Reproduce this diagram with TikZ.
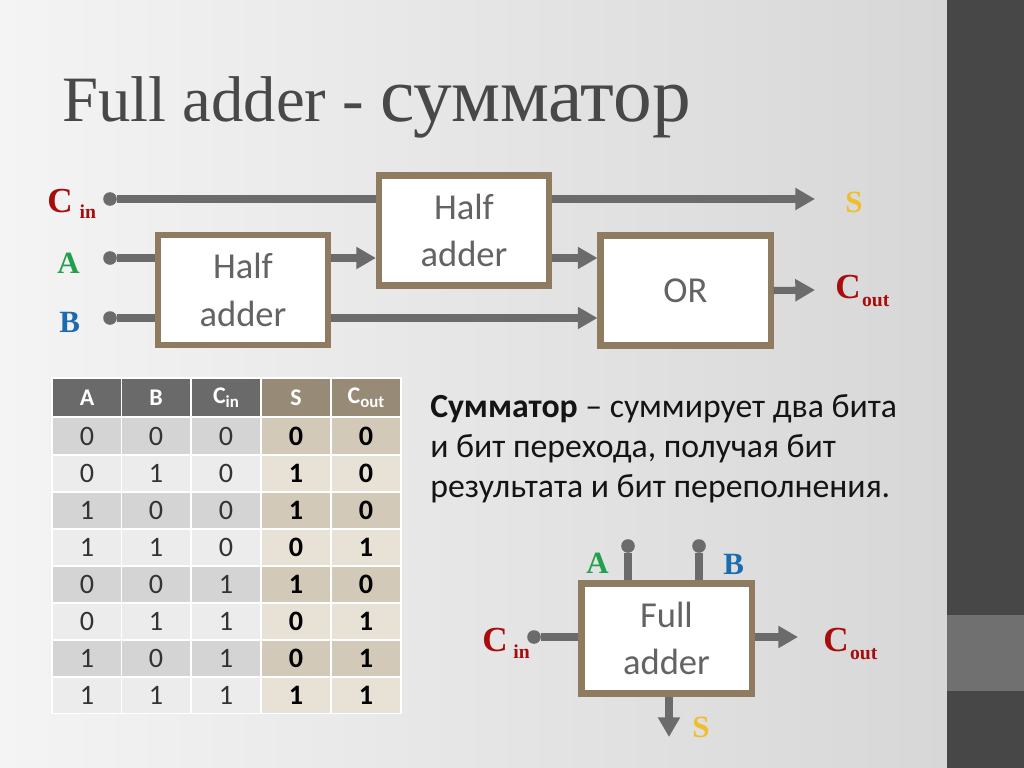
\documentclass[tikz,border=0pt]{standalone}
\usepackage{fontspec}
\setmainfont{Liberation Serif}
\newfontfamily\calib{Carlito}
\usepackage{xcolor}
\usepackage{tikz}
\usetikzlibrary{arrows.meta,positioning}

\definecolor{bgleft}{HTML}{F4F4F4}
\definecolor{bgright}{HTML}{D7D7D7}
\definecolor{sidebar}{HTML}{474747}
\definecolor{sidemark}{HTML}{707070}
\definecolor{wiregray}{HTML}{6B6B6B}
\definecolor{frame}{HTML}{8F7B60}
\definecolor{boxtext}{HTML}{636363}
\definecolor{titlegray}{HTML}{484848}
\definecolor{cinred}{HTML}{A80C0C}
\definecolor{agreen}{HTML}{22A04B}
\definecolor{bblue}{HTML}{1A6BB0}
\definecolor{syellow}{HTML}{F0BE2A}
\definecolor{hdgray}{HTML}{6A6A6A}
\definecolor{hdbrown}{HTML}{978A76}
\definecolor{rowdark}{HTML}{D4D4D4}
\definecolor{rowlight}{HTML}{ECECEC}
\definecolor{sumdark}{HTML}{D3C9B8}
\definecolor{sumlight}{HTML}{E7E1D6}

\newcommand{\csig}[3]{C\hspace{#1}\raisebox{-#3}{\fontsize{14}{14}\selectfont #2}}

\begin{document}
\begin{tikzpicture}[
    x=0.025cm, y=-0.025cm,
    block/.style={rectangle, draw=frame, line width=4.3pt, fill=white, minimum width=4.25cm, minimum height=2.75cm, align=center, text=boxtext, font=\calib\fontsize{26}{34}\selectfont},
    dot/.style={circle, fill=wiregray, inner sep=0pt, minimum size=0.34cm},
    wire/.style={draw=wiregray, line width=5pt},
    edge/.style={wire, -{Triangle[length=14pt,width=15pt]}},
    siglbl/.style={inner sep=0pt, anchor=base west, font=\bfseries\fontsize{22}{22}\selectfont},
    bigC/.style={siglbl, text=cinred, font=\bfseries\fontsize{25}{25}\selectfont},
    hcell/.style={rectangle, minimum width=1.7cm, minimum height=0.925cm, inner sep=0pt, text=white, font=\calib\bfseries\fontsize{17}{17}\selectfont},
    cell/.style={rectangle, minimum width=1.7cm, minimum height=0.875cm, inner sep=0pt, text=black!80, font=\calib\fontsize{20}{20}\selectfont},
    sumcell/.style={cell, text=black, font=\calib\bfseries\fontsize{20}{20}\selectfont}
]
\useasboundingbox (0,0) rectangle (1024,768);
\shade[left color=bgleft, right color=bgright] (0,0) rectangle (947,768);
\fill[sidebar] (947,0) rectangle (1024,768);
\fill[sidemark] (947,615) rectangle (1024,691);

% title
\node[anchor=base west, inner sep=0pt, text=titlegray] (title) at (62,122)
    {\fontsize{46}{46}\selectfont Full adder - \fontsize{55}{55}\selectfont сумматор};

% full adder from two half adders
\node[block] (ha1) at (243,290) {Half\\adder};
\node[block] (ha2) at (464,230.5) {Half\\adder};
\node[block] (orgate) at (685.5,290.5) {OR};
\node[dot] (dcin) at (110,199) {};
\node[dot] (da) at (110,258) {};
\node[dot] (db) at (110,318) {};
\coordinate (sarr) at (815,199);
\coordinate (coarr) at (815,290);

\draw[wire] (dcin) -- (dcin -| ha2.west);
\draw[edge] (dcin -| ha2.east) -- (sarr);
\draw[wire] (da) -- (da -| ha1.west);
\draw[wire] (db) -- (db -| ha1.west);
\draw[edge] (da -| ha1.east) -- (da -| ha2.west);
\draw[edge] (db -| ha1.east) -- (db -| orgate.west);
\draw[edge] (da -| ha2.east) -- (da -| orgate.west);
\draw[edge] (orgate.east) -- (coarr);

\node[bigC] (lcin) at (47,212) {\csig{5pt}{in}{4.5pt}};
\node[siglbl, text=agreen] (la) at (57,273) {A};
\node[siglbl, text=bblue] (lb) at (59,332) {B};
\node[siglbl, text=syellow] (ls) at (845,212) {S};
\node[bigC] (lcout) at (835,298) {\csig{1pt}{out}{6pt}};

% truth table
\fill[white] (51,377) rectangle (402,714);
\node[hcell, fill=hdgray] (ha) at (87,397.5) {A};
\node[hcell, fill=hdgray] (hb) at (156,397.5) {B};
\node[hcell, fill=hdgray] (hc) at (226,397.5) {C\raisebox{-3pt}{\fontsize{12}{12}\selectfont in}};
\node[hcell, fill=hdbrown] (hs) at (296,397.5) {S};
\node[hcell, fill=hdbrown] (ho) at (366,397.5) {C\raisebox{-3pt}{\fontsize{12}{12}\selectfont out}};
\foreach \a/\b/\c/\s/\o [count=\r] in {0/0/0/0/0,0/1/0/1/0,1/0/0/1/0,1/1/0/0/1,0/0/1/1/0,0/1/1/0/1,1/0/1/0/1,1/1/1/1/1}{
  \pgfmathsetmacro{\yy}{436+37*(\r-1)}
  \ifodd\r \def\gc{rowdark}\def\bc{sumdark}\else \def\gc{rowlight}\def\bc{sumlight}\fi
  \node[cell, fill=\gc] (ta\r) at (87,\yy) {\a};
  \node[cell, fill=\gc] (tb\r) at (156,\yy) {\b};
  \node[cell, fill=\gc] (tc\r) at (226,\yy) {\c};
  \node[sumcell, fill=\bc] (ts\r) at (296,\yy) {\s};
  \node[sumcell, fill=\bc] (to\r) at (366,\yy) {\o};
}

% description
\node[anchor=west, align=left, inner sep=0pt, text=black!92, font=\calib\fontsize{24}{28.5}\selectfont] (desc) at (430,449)
    {\textbf{Сумматор} – суммирует два бита\\и бит перехода, получая бит\\результата и бит переполнения.};

% full adder block
\node[block] (fa) at (666.5,638.5) {Full\\adder};
\node[dot] (fda) at (628,546) {};
\node[dot] (fdb) at (699,546) {};
\node[dot] (fdcin) at (534,637) {};
\coordinate (fcoarr) at (798,637);
\coordinate (fsarr) at (669,737);
\draw[wire] (fda) -- (fda |- fa.north);
\draw[wire] (fdb) -- (fdb |- fa.north);
\draw[wire] (fdcin) -- (fdcin -| fa.west);
\draw[edge] (fcoarr -| fa.east) -- (fcoarr);
\draw[edge] (fsarr |- fa.south) -- (fsarr);

\node[siglbl, text=agreen] (fla) at (586,573) {A};
\node[siglbl, text=bblue] (flb) at (723,574) {B};
\node[bigC] (flcin) at (482,651) {\csig{4pt}{in}{5pt}};
\node[bigC] (flcout) at (823,651) {\csig{1pt}{out}{6pt}};
\node[siglbl, text=syellow] (fls) at (692,737) {S};
\end{tikzpicture}
\end{document}
